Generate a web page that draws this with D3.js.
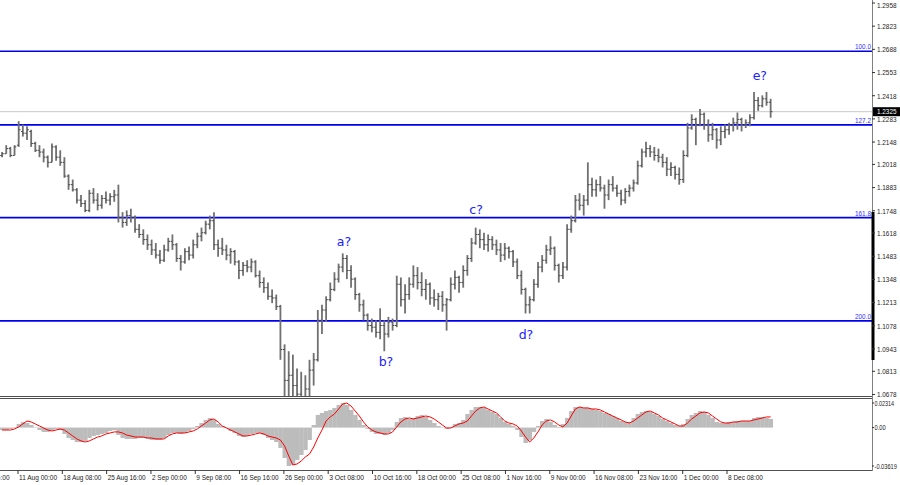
<!DOCTYPE html>
<html>
<head>
<meta charset="utf-8">
<script src="https://cdn.jsdelivr.net/npm/d3@7/dist/d3.min.js"></script>
<style>
body { margin: 0; background: #fff; }
svg { display: block; font-family: "Liberation Sans", Arial, sans-serif; }
</style>
</head>
<body>
<div id="vis"></div>
<script>
// GBP/USD, 12h bars (o/h/l/c)
var opens = [
  1.207,1.208,1.211,1.207,1.213,1.221,1.220,1.221,1.214,1.210,
  1.209,1.206,1.203,1.212,1.206,1.203,1.195,1.190,1.187,1.181,
  1.179,1.175,1.185,1.181,1.178,1.182,1.181,1.183,1.184,1.171,
  1.168,1.172,1.171,1.164,1.161,1.158,1.155,1.152,1.149,1.146,
  1.152,1.157,1.155,1.147,1.145,1.151,1.149,1.155,1.160,1.162,
  1.167,1.169,1.155,1.153,1.152,1.149,1.151,1.145,1.140,1.143,
  1.142,1.145,1.137,1.133,1.130,1.125,1.124,1.119,1.094,1.076,
  1.079,1.073,1.068,1.065,1.071,1.082,1.088,1.111,1.117,1.123,
  1.129,1.135,1.142,1.147,1.140,1.135,1.126,1.120,1.114,1.108,
  1.107,1.104,1.108,1.103,1.110,1.108,1.132,1.123,1.126,1.132,
  1.137,1.133,1.129,1.132,1.124,1.123,1.125,1.120,1.123,1.132,
  1.136,1.133,1.140,1.147,1.156,1.161,1.158,1.155,1.158,1.155,
  1.152,1.149,1.153,1.151,1.145,1.137,1.129,1.120,1.123,1.132,
  1.142,1.146,1.152,1.153,1.143,1.137,1.142,1.164,1.169,1.181,
  1.178,1.181,1.190,1.187,1.190,1.188,1.184,1.190,1.188,1.185,
  1.181,1.186,1.188,1.191,1.201,1.209,1.211,1.209,1.207,1.206,
  1.203,1.199,1.200,1.196,1.193,1.207,1.223,1.228,1.225,1.231,
  1.225,1.219,1.222,1.216,1.221,1.222,1.225,1.226,1.228,1.225,
  1.226,1.229,1.239,1.236,1.240,1.238
];
var highs = [
  1.209,1.213,1.212,1.213,1.227,1.225,1.224,1.222,1.215,1.213,
  1.211,1.207,1.214,1.213,1.210,1.206,1.196,1.193,1.188,1.184,
  1.181,1.187,1.188,1.185,1.184,1.186,1.185,1.187,1.190,1.174,
  1.175,1.176,1.172,1.167,1.164,1.161,1.158,1.156,1.152,1.155,
  1.159,1.161,1.156,1.149,1.153,1.154,1.158,1.162,1.165,1.169,
  1.172,1.174,1.158,1.159,1.155,1.153,1.152,1.146,1.145,1.146,
  1.147,1.146,1.140,1.136,1.133,1.129,1.126,1.120,1.097,1.093,
  1.091,1.083,1.081,1.079,1.088,1.092,1.117,1.120,1.125,1.133,
  1.139,1.144,1.150,1.149,1.143,1.136,1.127,1.123,1.115,1.112,
  1.111,1.118,1.111,1.113,1.112,1.137,1.136,1.132,1.136,1.143,
  1.142,1.139,1.135,1.133,1.129,1.127,1.128,1.124,1.136,1.140,
  1.137,1.143,1.149,1.159,1.165,1.164,1.162,1.161,1.160,1.158,
  1.156,1.156,1.154,1.152,1.147,1.140,1.130,1.125,1.135,1.145,
  1.149,1.155,1.160,1.154,1.144,1.145,1.167,1.172,1.184,1.185,
  1.184,1.203,1.194,1.193,1.195,1.190,1.193,1.195,1.190,1.187,
  1.188,1.190,1.193,1.204,1.211,1.215,1.213,1.212,1.211,1.208,
  1.206,1.203,1.201,1.200,1.210,1.226,1.231,1.229,1.234,1.232,
  1.228,1.226,1.223,1.224,1.225,1.226,1.229,1.232,1.229,1.228,
  1.231,1.244,1.241,1.242,1.244,1.240
];
var lows = [
  1.206,1.208,1.206,1.207,1.212,1.218,1.216,1.212,1.209,1.206,
  1.203,1.200,1.203,1.204,1.201,1.194,1.187,1.186,1.179,1.177,
  1.174,1.174,1.179,1.175,1.176,1.179,1.178,1.180,1.168,1.165,
  1.166,1.168,1.162,1.159,1.155,1.152,1.149,1.147,1.144,1.145,
  1.151,1.152,1.145,1.140,1.144,1.146,1.147,1.153,1.157,1.161,
  1.164,1.152,1.148,1.149,1.146,1.144,1.143,1.135,1.137,1.139,
  1.139,1.136,1.130,1.127,1.123,1.121,1.117,1.088,1.035,1.059,
  1.062,1.060,1.058,1.054,1.065,1.073,1.087,1.103,1.110,1.122,
  1.128,1.133,1.139,1.135,1.130,1.123,1.116,1.111,1.105,1.104,
  1.101,1.100,1.093,1.101,1.105,1.107,1.119,1.115,1.123,1.130,
  1.129,1.125,1.123,1.120,1.119,1.117,1.116,1.105,1.122,1.129,
  1.127,1.130,1.137,1.145,1.155,1.153,1.152,1.151,1.152,1.149,
  1.145,1.146,1.147,1.142,1.135,1.126,1.115,1.115,1.122,1.130,
  1.139,1.144,1.149,1.140,1.133,1.135,1.140,1.162,1.168,1.175,
  1.172,1.178,1.183,1.183,1.186,1.176,1.181,1.186,1.183,1.178,
  1.179,1.183,1.186,1.190,1.200,1.206,1.206,1.204,1.203,1.200,
  1.195,1.195,1.193,1.190,1.191,1.206,1.222,1.213,1.224,1.222,
  1.215,1.216,1.211,1.213,1.217,1.219,1.221,1.222,1.221,1.223,
  1.224,1.228,1.233,1.235,1.236,1.229
];
var closes = [
  1.208,1.211,1.207,1.212,1.222,1.220,1.222,1.214,1.210,1.209,
  1.206,1.203,1.212,1.206,1.203,1.195,1.190,1.187,1.181,1.179,
  1.175,1.185,1.181,1.178,1.182,1.181,1.183,1.184,1.171,1.168,
  1.172,1.171,1.164,1.161,1.158,1.155,1.152,1.149,1.146,1.152,
  1.157,1.155,1.147,1.145,1.151,1.149,1.155,1.160,1.162,1.167,
  1.169,1.155,1.153,1.152,1.149,1.151,1.145,1.140,1.143,1.142,
  1.145,1.137,1.133,1.130,1.125,1.124,1.119,1.094,1.076,1.079,
  1.073,1.068,1.065,1.071,1.082,1.088,1.111,1.117,1.123,1.129,
  1.135,1.142,1.147,1.140,1.135,1.126,1.120,1.114,1.108,1.107,
  1.104,1.108,1.103,1.110,1.108,1.132,1.123,1.126,1.132,1.137,
  1.133,1.129,1.132,1.124,1.123,1.125,1.120,1.123,1.132,1.136,
  1.133,1.140,1.147,1.156,1.161,1.158,1.155,1.158,1.155,1.152,
  1.149,1.153,1.151,1.145,1.137,1.129,1.120,1.123,1.132,1.142,
  1.146,1.152,1.153,1.143,1.137,1.142,1.164,1.169,1.181,1.178,
  1.181,1.190,1.187,1.190,1.188,1.184,1.190,1.188,1.185,1.181,
  1.186,1.188,1.191,1.201,1.209,1.211,1.209,1.207,1.206,1.203,
  1.199,1.200,1.196,1.193,1.207,1.223,1.228,1.225,1.231,1.225,
  1.219,1.222,1.216,1.221,1.222,1.225,1.226,1.228,1.225,1.226,
  1.229,1.239,1.236,1.240,1.238,1.2325
];

// MACD: histogram (main) and signal line
var macdMain = [
  -0.0023,-0.0023,-0.0013,0.0006,0.0034,0.0053,0.0043,0.0024,-0.0004,-0.0023,
  -0.0041,-0.0041,-0.0023,-0.0013,-0.0023,-0.0060,-0.0098,-0.0117,-0.0136,-0.0136,
  -0.0126,-0.0098,-0.0079,-0.0070,-0.0060,-0.0051,-0.0032,-0.0023,-0.0070,-0.0098,
  -0.0107,-0.0107,-0.0107,-0.0098,-0.0098,-0.0107,-0.0117,-0.0117,-0.0117,-0.0098,
  -0.0070,-0.0051,-0.0051,-0.0060,-0.0051,-0.0032,-0.0013,0.0015,0.0043,0.0072,
  0.0090,0.0072,0.0034,0.0015,-0.0004,-0.0032,-0.0051,-0.0079,-0.0089,-0.0079,
  -0.0060,-0.0051,-0.0051,-0.0070,-0.0098,-0.0117,-0.0136,-0.0192,-0.0286,-0.0362,
  -0.0352,-0.0305,-0.0258,-0.0211,-0.0117,0.0024,0.0119,0.0138,0.0156,0.0166,
  0.0185,0.0213,0.0231,0.0213,0.0166,0.0119,0.0072,0.0024,-0.0013,-0.0041,
  -0.0060,-0.0060,-0.0070,-0.0051,-0.0023,0.0053,0.0090,0.0100,0.0081,0.0090,
  0.0109,0.0119,0.0100,0.0072,0.0043,0.0015,-0.0004,-0.0013,0.0006,0.0034,
  0.0043,0.0072,0.0128,0.0166,0.0194,0.0194,0.0185,0.0166,0.0147,0.0128,
  0.0090,0.0053,0.0034,0.0015,-0.0023,-0.0089,-0.0145,-0.0117,-0.0041,0.0015,
  0.0062,0.0081,0.0053,0.0024,0.0006,0.0034,0.0090,0.0156,0.0194,0.0194,
  0.0185,0.0185,0.0175,0.0166,0.0156,0.0138,0.0128,0.0109,0.0090,0.0062,
  0.0053,0.0053,0.0090,0.0128,0.0147,0.0156,0.0147,0.0128,0.0109,0.0081,
  0.0062,0.0043,0.0024,0.0015,0.0034,0.0081,0.0119,0.0138,0.0156,0.0147,
  0.0119,0.0090,0.0053,0.0043,0.0043,0.0053,0.0053,0.0062,0.0062,0.0062,
  0.0062,0.0090,0.0100,0.0100,0.0090,0.0081
];
var macdSignal = [
  -0.0023,-0.0023,-0.0023,-0.0013,0.0006,0.0034,0.0062,0.0053,0.0034,0.0015,
  -0.0004,-0.0023,-0.0032,-0.0023,-0.0013,-0.0023,-0.0051,-0.0079,-0.0107,-0.0126,
  -0.0136,-0.0126,-0.0107,-0.0089,-0.0079,-0.0060,-0.0051,-0.0041,-0.0041,-0.0051,
  -0.0070,-0.0079,-0.0089,-0.0089,-0.0089,-0.0098,-0.0098,-0.0107,-0.0107,-0.0107,
  -0.0079,-0.0060,-0.0051,-0.0051,-0.0051,-0.0041,-0.0032,-0.0013,0.0015,0.0043,
  0.0072,0.0081,0.0053,0.0015,-0.0004,-0.0023,-0.0041,-0.0060,-0.0079,-0.0079,
  -0.0070,-0.0060,-0.0051,-0.0060,-0.0079,-0.0089,-0.0098,-0.0117,-0.0173,-0.0268,
  -0.0352,-0.0343,-0.0315,-0.0277,-0.0249,-0.0183,-0.0098,-0.0023,0.0062,0.0100,
  0.0128,0.0175,0.0222,0.0231,0.0203,0.0156,0.0109,0.0053,0.0006,-0.0023,
  -0.0041,-0.0051,-0.0060,-0.0060,-0.0041,0.0006,0.0053,0.0081,0.0090,0.0081,
  0.0090,0.0100,0.0109,0.0100,0.0081,0.0053,0.0024,-0.0004,-0.0004,0.0015,
  0.0034,0.0043,0.0062,0.0109,0.0156,0.0185,0.0194,0.0175,0.0156,0.0138,
  0.0100,0.0062,0.0043,0.0034,0.0015,-0.0032,-0.0089,-0.0136,-0.0098,-0.0041,
  0.0024,0.0062,0.0072,0.0053,0.0024,0.0006,0.0043,0.0109,0.0175,0.0194,
  0.0185,0.0185,0.0175,0.0175,0.0166,0.0147,0.0128,0.0109,0.0090,0.0072,
  0.0053,0.0043,0.0062,0.0090,0.0119,0.0147,0.0156,0.0138,0.0119,0.0090,
  0.0072,0.0053,0.0034,0.0015,0.0015,0.0043,0.0081,0.0109,0.0138,0.0147,
  0.0138,0.0109,0.0081,0.0053,0.0043,0.0043,0.0053,0.0053,0.0062,0.0062,
  0.0062,0.0072,0.0081,0.0090,0.0100,0.0100
];

// axes
var priceTicks = [1.2958,1.2823,1.2688,1.2553,1.2418,1.2283,1.2148,1.2018,1.1883,1.1748,
                  1.1618,1.1483,1.1348,1.1213,1.1078,1.0943,1.0813,1.0678];
var macdTicks = [0.02314, 0.00, -0.03619];
var macdTickLabels = ["0.02314", "0.00", "-0.03619"];
var timeLabels = ["4 Aug 16:00","11 Aug 00:00","18 Aug 08:00","25 Aug 16:00","2 Sep 00:00",
                  "9 Sep 08:00","16 Sep 16:00","26 Sep 00:00","3 Oct 08:00","10 Oct 16:00",
                  "18 Oct 00:00","25 Oct 08:00","1 Nov 16:00","9 Nov 00:00","16 Nov 08:00",
                  "23 Nov 16:00","1 Dec 00:00","8 Dec 08:00"];
var lastPrice = 1.2325;

// fibonacci levels
var fibLevels = ["100.0", "127.2", "161.8", "200.0"];
var fibPrices = [1.2677, 1.2248, 1.1708, 1.1107];

// wave marks: name, bar position, price
var waveNames = ["a?", "b?", "c?", "d?", "e?"];
var waveBars = [82.3, 92.4, 114.1, 126.1, 182.4];
var wavePrices = [1.1570, 1.0868, 1.1753, 1.1025, 1.2533];

(function() {
    var width = 900, height = 485;
    var plotRight = 872;
    var mainTop = 3, mainBottom = 396, subTop = 398, subBottom = 470;

    var svg = d3.select("#vis").append("svg").attr("width", width).attr("height", height);

    // bar index -> x (one bar every ~4.15px)
    var x = d3.scaleLinear().domain([0, 1]).range([2.08, 6.2344]);
    var y = d3.scaleLinear().domain([1.0678, 1.2958]).range([394.5, mainTop]);
    var ym = d3.scaleLinear().domain([-0.03619, 0.02314]).range([466, 403]);

    svg.append("clipPath").attr("id", "mainClip").append("rect")
        .attr("x", 0).attr("y", 0).attr("width", plotRight).attr("height", mainBottom);
    svg.append("clipPath").attr("id", "subClip").append("rect")
        .attr("x", 0).attr("y", subTop + 1).attr("width", plotRight).attr("height", subBottom - subTop - 1);

    var main = svg.append("g").attr("clip-path", "url(#mainClip)");

    // current price line
    main.append("line")
        .attr("x1", 0).attr("x2", plotRight)
        .attr("y1", y(lastPrice)).attr("y2", y(lastPrice))
        .attr("stroke", "#c8c8c8").attr("stroke-width", 1);

    // fib lines
    fibPrices.forEach(function(p, i) {
        main.append("line")
            .attr("x1", 0).attr("x2", plotRight)
            .attr("y1", y(p)).attr("y2", y(p))
            .attr("stroke", "#0000f0").attr("stroke-width", 1.6);
        svg.append("text")
            .attr("x", plotRight - 1).attr("y", y(p) - 2)
            .attr("text-anchor", "end")
            .attr("font-size", 7.5)
            .attr("fill", "#3030ff")
            .attr("textLength", 16).attr("lengthAdjust", "spacingAndGlyphs")
            .text(fibLevels[i]);
    });

    // OHLC bars
    var bars = main.append("g");
    opens.forEach(function(o, i) {
        var cx = x(i);
        bars.append("line")
            .attr("x1", cx).attr("x2", cx)
            .attr("y1", y(highs[i])).attr("y2", y(lows[i]))
            .attr("stroke", "#707070").attr("stroke-width", 1.8);
        bars.append("line")
            .attr("x1", cx - 1.8).attr("x2", cx)
            .attr("y1", y(o)).attr("y2", y(o))
            .attr("stroke", "#4a4a4a").attr("stroke-width", 1);
        bars.append("line")
            .attr("x1", cx).attr("x2", cx + 1.8)
            .attr("y1", y(closes[i])).attr("y2", y(closes[i]))
            .attr("stroke", "#4a4a4a").attr("stroke-width", 1);
    });

    // wave labels
    waveNames.forEach(function(t, i) {
        svg.append("text")
            .attr("x", x(waveBars[i])).attr("y", y(wavePrices[i]))
            .attr("dy", "0.36em")
            .attr("text-anchor", "middle")
            .attr("font-family", "DejaVu Sans, sans-serif")
            .attr("font-size", 12.5)
            .attr("fill", "#2020ff")
            .text(t);
    });

    // MACD panel
    var sub = svg.append("g").attr("clip-path", "url(#subClip)");
    var bw = x(1) - x(0);
    sub.selectAll("rect.hist").data(macdMain).enter().append("rect")
        .attr("class", "hist")
        .attr("x", function(d, i) { return x(i) - bw / 2; })
        .attr("width", bw + 0.3)
        .attr("y", function(d) { return Math.min(ym(d), ym(0)); })
        .attr("height", function(d) { return Math.abs(ym(d) - ym(0)); })
        .attr("fill", "#bcbcbc");
    sub.append("path")
        .datum(macdSignal)
        .attr("fill", "none")
        .attr("stroke", "#ff0000")
        .attr("stroke-width", 1)
        .attr("d", d3.line().x(function(d, i) { return x(i); }).y(function(d) { return ym(d); }));

    // frames
    var frame = svg.append("g").attr("stroke", "#505050").attr("stroke-width", 1);
    [mainBottom, subTop, subBottom].forEach(function(v) {
        frame.append("line").attr("x1", 0).attr("x2", plotRight)
            .attr("y1", v + 0.5).attr("y2", v + 0.5);
    });
    frame.append("line").attr("x1", plotRight + 0.5).attr("x2", plotRight + 0.5)
        .attr("y1", 0).attr("y2", subBottom + 1).attr("stroke", "#808080");
    svg.append("rect").attr("x", plotRight - 0.5).attr("y", 212).attr("width", 3).attr("height", 148)
        .attr("fill", "#000");

    // price axis
    var pa = svg.append("g");
    priceTicks.forEach(function(p) {
        var py = y(p);
        pa.append("line").attr("x1", plotRight).attr("x2", plotRight + 3)
            .attr("y1", py).attr("y2", py).attr("stroke", "#333");
        pa.append("text")
            .attr("x", plotRight + 5).attr("y", Math.max(py, 5.5))
            .attr("dy", "0.35em")
            .attr("font-size", 8).attr("fill", "#222")
            .attr("textLength", 19.5).attr("lengthAdjust", "spacingAndGlyphs")
            .text(d3.format(".4f")(p));
    });
    // last price box
    pa.append("rect").attr("x", plotRight + 1).attr("y", y(lastPrice) - 4.5)
        .attr("width", 27).attr("height", 9).attr("fill", "#000");
    pa.append("text")
        .attr("x", plotRight + 5).attr("y", y(lastPrice))
        .attr("dy", "0.35em")
        .attr("font-size", 8).attr("fill", "#fff")
        .attr("textLength", 19.5).attr("lengthAdjust", "spacingAndGlyphs")
        .text(d3.format(".4f")(lastPrice));

    // macd axis
    macdTicks.forEach(function(v, i) {
        pa.append("line").attr("x1", plotRight).attr("x2", plotRight + 2)
            .attr("y1", ym(v)).attr("y2", ym(v)).attr("stroke", "#333");
        var lab = macdTickLabels[i];
        pa.append("text")
            .attr("x", plotRight + 2.5).attr("y", ym(v))
            .attr("dy", "0.35em")
            .attr("font-size", 7.5).attr("fill", "#222")
            .attr("textLength", lab.length * 2.8).attr("lengthAdjust", "spacingAndGlyphs")
            .text(lab);
    });

    // time axis: one label every 32 four-hour bars
    var firstTickBar = 13 / 3 - 0.5 - 32 / 3;
    timeLabels.forEach(function(t, j) {
        var tx = x(firstTickBar + j * 32 / 3);
        pa.append("line").attr("x1", tx).attr("x2", tx)
            .attr("y1", subBottom).attr("y2", subBottom + 4).attr("stroke", "#333");
        pa.append("text")
            .attr("x", tx + 1).attr("y", 480)
            .attr("font-size", 8).attr("fill", "#222")
            .attr("textLength", t.length * 3.17).attr("lengthAdjust", "spacingAndGlyphs")
            .text(t);
    });
})();
</script>
</body>
</html>
